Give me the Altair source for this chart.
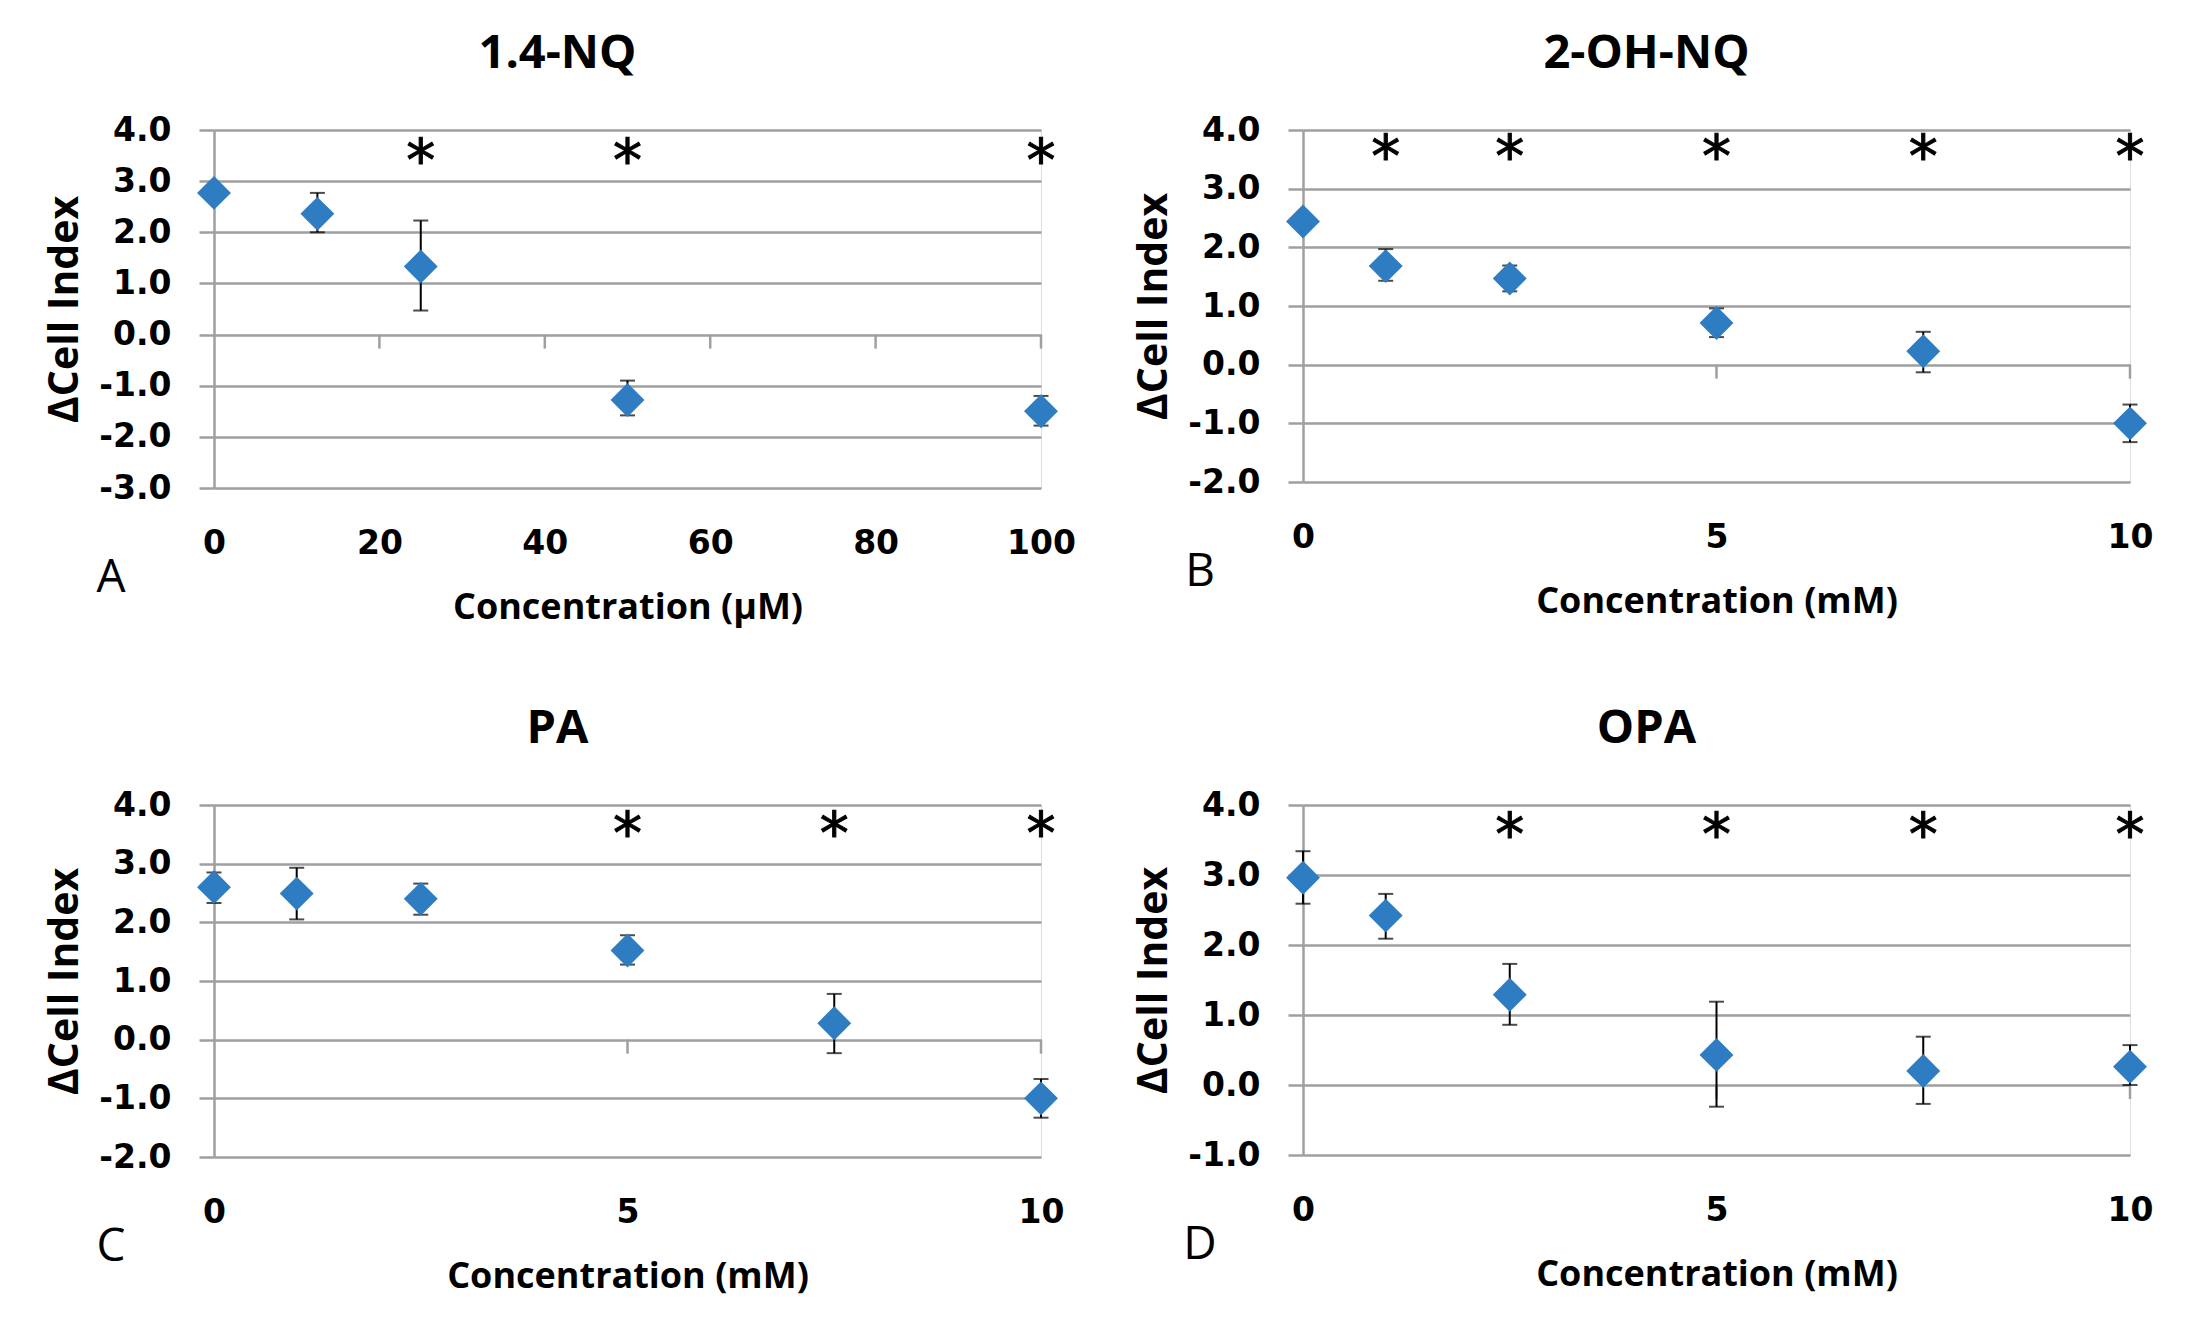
import altair as alt
import pandas as pd

# ---------------- data ----------------
titles = ["1.4-NQ", "2-OH-NQ", "PA", "OPA"]
letters = ["A", "B", "C", "D"]
x_titles = ["Concentration (µM)", "Concentration (mM)", "Concentration (mM)", "Concentration (mM)"]

a_x = [0, 12.5, 25, 50, 100]
a_y = [2.77, 2.36, 1.33, -1.28, -1.50]
a_lo = [2.69, 2.00, 0.47, -1.58, -1.78]
a_hi = [2.85, 2.77, 2.23, -0.90, -1.20]
a_sig = [25, 50, 100]

b_x = [0, 1, 2.5, 5, 7.5, 10]
b_y = [2.44, 1.68, 1.47, 0.71, 0.23, -1.00]
b_lo = [2.37, 1.43, 1.25, 0.47, -0.13, -1.32]
b_hi = [2.51, 1.97, 1.69, 0.96, 0.56, -0.68]
b_sig = [1, 2.5, 5, 7.5, 10]

c_x = [0, 1, 2.5, 5, 7.5, 10]
c_y = [2.60, 2.49, 2.40, 1.52, 0.28, -1.00]
c_lo = [2.33, 2.05, 2.13, 1.28, -0.23, -1.33]
c_hi = [2.85, 2.93, 2.66, 1.78, 0.78, -0.67]
c_sig = [5, 7.5, 10]

d_x = [0, 1, 2.5, 5, 7.5, 10]
d_y = [2.96, 2.42, 1.29, 0.43, 0.20, 0.26]
d_lo = [2.59, 2.09, 0.86, -0.31, -0.27, 0.00]
d_hi = [3.34, 2.73, 1.73, 1.19, 0.69, 0.57]
d_sig = [2.5, 5, 7.5, 10]

sig_level = [3.56, 3.68, 3.65, 3.68]
y_ranges = [(-3, 4), (-2, 4), (-2, 4), (-1, 4)]
x_max = [100, 10, 10, 10]
x_ticks = [[0, 20, 40, 60, 80, 100], [0, 5, 10], [0, 5, 10], [0, 5, 10]]

# ---------------- style ----------------
W = 827
HEIGHTS = [358, 352, 352, 350]
GRAY = "#9f9f9f"
BLUE = "#2e7cc2"
TICK_PX = 14
TFONT = "Open Sans"
LFONT = "DejaVu Sans"


def panel(i, xs, ys, los, his, sig):
    H = HEIGHTS[i]
    ymin, ymax = y_ranges[i]
    df = pd.DataFrame({"x": xs, "y": ys, "lo": los, "hi": his})

    def X(field):
        return alt.X(
            field + ":Q",
            scale=alt.Scale(domain=[0, x_max[i]], nice=False, zero=False),
            axis=alt.Axis(
                values=x_ticks[i], title=x_titles[i], domain=False, ticks=False, grid=False,
                labelFont=LFONT, labelFontWeight="bold", labelFontSize=33, labelColor="black",
                labelPadding=39, labelFlush=False,
                titleFont=TFONT, titleFontWeight="bold", titleFontSize=36, titleColor="black",
                titlePadding=30,
            ),
        )

    def Y(field):
        return alt.Y(
            field + ":Q",
            scale=alt.Scale(domain=[ymin, ymax], nice=False, zero=False),
            axis=alt.Axis(
                values=list(range(ymin, ymax + 1)), title="ΔCell Index",
                labelExpr="replace(format(datum.value, '.1f'), '\u2212', '-')",
                domain=True, domainColor=GRAY, domainWidth=2.5,
                ticks=True, tickColor=GRAY, tickWidth=2.5, tickSize=15,
                grid=True, gridColor=GRAY, gridWidth=2.5,
                labelFont=LFONT, labelFontWeight="bold", labelFontSize=33, labelColor="black",
                labelPadding=28,
                titleFont=TFONT, titleFontWeight="bold", titleFontSize=41, titleColor="black",
                titlePadding=12,
            ),
        )

    base = alt.Chart(df)
    tick_len = TICK_PX / (H / (ymax - ymin))
    tdf = pd.DataFrame({"tx": [t for t in x_ticks[i] if t != 0]})
    tdf["t0"] = 0.0
    tdf["t1"] = -tick_len
    xt = alt.Chart(tdf).mark_rule(color=GRAY, strokeWidth=2.5).encode(
        x=X("tx"), y=Y("t0"), y2="t1"
    )
    bars = base.mark_rule(color="black", strokeWidth=2).encode(x=X("x"), y=Y("lo"), y2="hi")
    cap_lo = base.mark_tick(color="black", orient="horizontal", size=15, thickness=2).encode(
        x=X("x"), y=Y("lo"))
    cap_hi = base.mark_tick(color="black", orient="horizontal", size=15, thickness=2).encode(
        x=X("x"), y=Y("hi"))
    pts = base.mark_point(shape="diamond", filled=True, size=1150, color=BLUE, opacity=1).encode(
        x=X("x"), y=Y("y"))
    sdf = pd.DataFrame({"sx": sig, "sy": [sig_level[i]] * len(sig), "s": ["*"] * len(sig)})
    stars = alt.Chart(sdf).mark_text(font=LFONT, fontSize=58, baseline="alphabetic", dy=28,
                                     color="black", stroke="black", strokeWidth=1).encode(
        x=X("sx"), y=Y("sy"), text="s:N")
    ldf = pd.DataFrame({"t": [letters[i]]})
    letter = alt.Chart(ldf).mark_text(font=TFONT, fontSize=46, align="center",
                                      baseline="middle", color="black").encode(
        text="t:N", x=alt.value(-103), y=alt.value(H + 90))
    return alt.layer(xt, bars, cap_lo, cap_hi, pts, stars, letter).properties(
        width=W, height=H,
        title=alt.TitleParams(titles[i], font=TFONT, fontWeight="bold", fontSize=47,
                              color="black", anchor="middle", offset=36, dx=-70),
    )


pA = panel(0, a_x, a_y, a_lo, a_hi, a_sig)
pB = panel(1, b_x, b_y, b_lo, b_hi, b_sig)
pC = panel(2, c_x, c_y, c_lo, c_hi, c_sig)
pD = panel(3, d_x, d_y, d_lo, d_hi, d_sig)

row1 = alt.hconcat(pA, pB, spacing=262, bounds="flush")
row2 = alt.hconcat(pC, pD, spacing=262, bounds="flush")
chart = alt.vconcat(row1, row2, spacing=675, bounds="flush").properties(
    padding={"left": 36, "top": 21, "right": 5, "bottom": 5}
).configure_view(stroke=None).configure(background="white")

chart.save("out.html", embed_options={"renderer": "svg", "actions": False})
